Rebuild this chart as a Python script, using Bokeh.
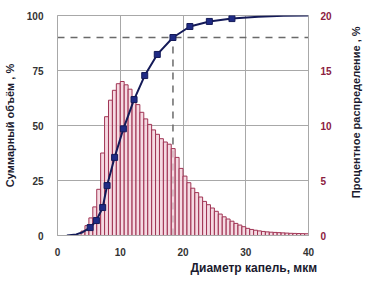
import math
from bokeh.plotting import figure
from bokeh.layouts import row
from bokeh.models import Range1d, LinearAxis, FixedTicker, Title, Label
from bokeh.embed import file_html
from bokeh.resources import INLINE

# Histogram: percent distribution per size bin (right axis)
bin_start = 3.75
bin_width = 0.625
pct = [0.4, 0.9, 1.6, 2.6, 4.2, 7.5, 10.8, 12.3, 13.2, 13.8,
       14.0, 13.7, 13.3, 12.6, 11.9, 11.2, 10.6, 10.1, 9.6, 9.2,
       8.8, 8.5, 8.3, 7.9, 7.1, 6.1, 5.4, 4.8, 4.3, 3.9,
       3.5, 3.1, 2.8, 2.5, 2.2, 1.95, 1.7, 1.5, 1.3, 1.1,
       0.95, 0.8, 0.65, 0.55, 0.48, 0.42, 0.37, 0.33, 0.3, 0.28,
       0.26, 0.24, 0.22, 0.2, 0.19, 0.18, 0.17, 0.16]
centers = [bin_start + bin_width * (i + 0.5) for i in range(len(pct))]

# Cumulative volume curve (left axis)
cum_x = [1.5, 3.0, 4.0, 5.2, 6.2, 7.2, 7.9, 9.1, 10.5, 12.2, 13.9, 15.9, 18.4, 21.1, 24.2, 27.8, 32.0, 36.0, 40.0]
cum_y = [0.0, 0.5, 1.5, 3.6, 6.8, 12.7, 22.7, 35.5, 48.5, 61.8, 72.7, 82.3, 90.0, 95.0, 97.3, 98.6, 99.4, 99.85, 100.0]
mark_x = [5.2, 6.2, 7.2, 7.9, 9.1, 10.5, 12.2, 13.9, 15.9, 18.4, 21.1, 24.2, 27.8]
mark_y = [3.6, 6.8, 12.7, 22.7, 35.5, 48.5, 61.8, 72.7, 82.3, 90.0, 95.0, 97.3, 98.6]

# Reference lines
level_90 = 90.0
d90 = 18.4

x_ticks = [0, 10, 20, 30, 40]
left_ticks = [0, 25, 50, 75, 100]
right_ticks = [0, 5, 10, 15, 20]

x_title = "Диаметр капель, мкм"
left_title = "Суммарный объём , %"
right_title = "Процентное распределение , %"

FONT = "Liberation Sans"
TITLE_COLOR = "#1a1a2e"

p = figure(width=346, height=284, x_range=Range1d(0, 40), y_range=Range1d(0, 100),
           output_backend="svg", toolbar_location=None,
           min_border_left=52, min_border_right=38, min_border_top=15, min_border_bottom=49)
p.extra_y_ranges = {"pct": Range1d(0, 20)}
p.background_fill_color = "white"
p.border_fill_color = "white"
p.outline_line_color = "#a8a8a8"

# grids
p.xgrid.ticker = FixedTicker(ticks=x_ticks)
p.ygrid.ticker = FixedTicker(ticks=left_ticks)
p.xgrid.grid_line_color = "#a8a8a8"
p.ygrid.grid_line_color = "#a8a8a8"

# dashed reference lines
p.line([0, 40], [level_90, level_90], line_color="#6a6a6a", line_dash="7 6", line_width=1.5)
p.line([d90, d90], [0, level_90], line_color="#6a6a6a", line_dash="7 6", line_width=1.5)

# histogram bars
p.vbar(x=centers, top=pct, width=bin_width, bottom=0, y_range_name="pct",
       fill_color="#f2cdd8", fill_alpha=0.75, line_color="#a03454", line_width=1)

# cumulative curve
p.line(cum_x, cum_y, line_color="#141a58", line_width=2)
p.scatter(mark_x, mark_y, marker="square", size=6, fill_color="#1f2b85", line_color="#141a58")

# axes styling
def style(ax, color):
    ax.major_tick_line_color = None
    ax.minor_tick_line_color = None
    ax.axis_line_color = "#a8a8a8"
    ax.major_label_text_font = FONT
    ax.major_label_text_font_style = "bold"
    ax.major_label_text_font_size = "10px"
    ax.major_label_text_color = color
    ax.axis_label_text_font = FONT
    ax.axis_label_text_font_style = "bold"
    ax.axis_label_text_font_size = "11px"
    ax.axis_label_text_color = TITLE_COLOR

xa = p.xaxis[0]
xa.ticker = FixedTicker(ticks=x_ticks)
style(xa, "#333333")
xa.major_label_standoff = 6

ya = p.yaxis[0]
ya.ticker = FixedTicker(ticks=left_ticks)
style(ya, "#333333")
ya.axis_label = left_title
ya.major_label_standoff = 8
ya.axis_label_standoff = 8

ra = LinearAxis(y_range_name="pct")
ra.ticker = FixedTicker(ticks=right_ticks)
style(ra, "#8b2040")
ra.major_label_standoff = 6
p.add_layout(ra, "right")

# x title below the axis, shifted right of centre
xt = Title(text=x_title, align="left", offset=133, text_font=FONT,
           text_font_style="bold", text_font_size="12px", text_color=TITLE_COLOR,
           standoff=0)
p.add_layout(xt, "below")

# narrow strip holding the right-hand title, reading bottom-to-top
side = figure(width=22, height=284, x_range=Range1d(0, 1), y_range=Range1d(0, 1),
              output_backend="svg", toolbar_location=None, min_border=0)
side.axis.visible = False
side.grid.visible = False
side.outline_line_color = None
side.background_fill_color = "white"
side.border_fill_color = "white"
side.add_layout(Label(x=0.42, y=0.56, text=right_title, angle=math.pi / 2,
                      text_align="center", text_baseline="middle",
                      text_font=FONT, text_font_style="bold", text_font_size="11px",
                      text_color=TITLE_COLOR))

layout = row(p, side, spacing=0)
open("out.html", "w").write(file_html(layout, INLINE))
